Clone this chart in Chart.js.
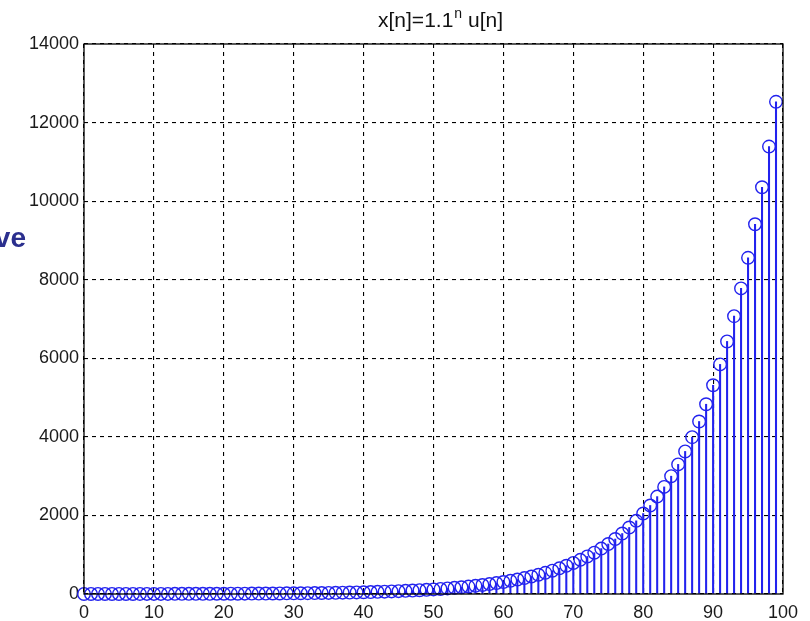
<!DOCTYPE html>
<html>
<head>
<meta charset="utf-8">
<script src="https://cdn.jsdelivr.net/npm/chart.js@4.4.1/dist/chart.umd.min.js"></script>
<style>
  html, body { margin: 0; padding: 0; background: #fff; }
  #wrap { position: relative; width: 810px; height: 621px; }
  #side { position: absolute; left: -10px; top: 222px; width: 36px; text-align: right;
          font: bold 28px "Liberation Sans", Arial, sans-serif; color: #2b2f8e; }
</style>
</head>
<body>
<div id="wrap">
  <canvas id="chart" width="810" height="621"></canvas>
  <div id="side">ve</div>
</div>
<script>
// n = 0..99, x[n] = 1.1^n
const nValues = [
  0, 1, 2, 3, 4, 5, 6, 7, 8, 9,
  10, 11, 12, 13, 14, 15, 16, 17, 18, 19,
  20, 21, 22, 23, 24, 25, 26, 27, 28, 29,
  30, 31, 32, 33, 34, 35, 36, 37, 38, 39,
  40, 41, 42, 43, 44, 45, 46, 47, 48, 49,
  50, 51, 52, 53, 54, 55, 56, 57, 58, 59,
  60, 61, 62, 63, 64, 65, 66, 67, 68, 69,
  70, 71, 72, 73, 74, 75, 76, 77, 78, 79,
  80, 81, 82, 83, 84, 85, 86, 87, 88, 89,
  90, 91, 92, 93, 94, 95, 96, 97, 98, 99
];
const xValues = [
  1, 1.1, 1.2, 1.3, 1.5, 1.6, 1.8, 1.9, 2.1, 2.4,
  2.6, 2.9, 3.1, 3.5, 3.8, 4.2, 4.6, 5.1, 5.6, 6.1,
  6.7, 7.4, 8.1, 9, 9.8, 11, 12, 13, 14, 16,
  17, 19, 21, 23, 26, 28, 31, 34, 37, 41,
  45, 50, 55, 60, 66, 73, 80, 88, 97, 107,
  117, 129, 142, 156, 172, 189, 208, 229, 252, 277,
  304, 335, 368, 405, 446, 490, 539, 593, 653, 718,
  790, 869, 956, 1051, 1156, 1272, 1399, 1539, 1693, 1862,
  2048, 2253, 2479, 2726, 2999, 3299, 3629, 3992, 4391, 4830,
  5313, 5844, 6429, 7072, 7779, 8557, 9412, 10354, 11389, 12528
];
const xTicks = [0, 10, 20, 30, 40, 50, 60, 70, 80, 90, 100];
const yTicks = [0, 2000, 4000, 6000, 8000, 10000, 12000, 14000];

const stemColor = "#2222ee";
const tickFont = { family: "'Liberation Sans', Arial, sans-serif", size: 18 };
const points = nValues.map((n, i) => ({ x: n, y: xValues[i] }));

// axes box and title with superscript n
const framePlugin = {
  id: "frame",
  afterDraw(chart) {
    const { ctx, chartArea: a } = chart;
    ctx.save();
    ctx.strokeStyle = "#000";
    ctx.lineWidth = 1.3;
    ctx.setLineDash([]);
    ctx.strokeRect(a.left, a.top, a.right - a.left, a.bottom - a.top);

    const base = "x[n]=1.1", sup = "n", rest = " u[n]";
    const big = "21px 'Liberation Sans', Arial, sans-serif";
    const small = "14px 'Liberation Sans', Arial, sans-serif";
    ctx.fillStyle = "#111";
    ctx.textBaseline = "alphabetic";
    ctx.font = big;
    const w1 = ctx.measureText(base).width;
    const w3 = ctx.measureText(rest).width;
    ctx.font = small;
    const w2 = ctx.measureText(sup).width;
    let x = 440 - (w1 + w2 + w3) / 2;
    const y = 27;
    ctx.font = big;
    ctx.fillText(base, x, y);
    x += w1;
    ctx.font = small;
    ctx.fillText(sup, x + 1, y - 9);
    x += w2 + 1;
    ctx.font = big;
    ctx.fillText(rest, x, y);
    ctx.restore();
  }
};

new Chart(document.getElementById("chart"), {
  type: "bar",
  data: {
    datasets: [
      {
        type: "scatter",
        data: points,
        showLine: false,
        pointStyle: "circle",
        pointRadius: 6.3,
        pointBorderWidth: 1.4,
        pointBorderColor: stemColor,
        pointBackgroundColor: "rgba(0,0,0,0)",
        clip: false,
        order: 0,
      },
      {
        type: "bar",
        data: points,
        backgroundColor: stemColor,
        barThickness: 1.4,
        order: 1,
      },
    ],
  },
  options: {
    responsive: false,
    animation: false,
    events: [],
    layout: { padding: { left: 0, right: 27, top: 44, bottom: 0 } },
    plugins: { legend: { display: false }, tooltip: { enabled: false } },
    scales: {
      x: {
        type: "linear",
        min: 0,
        max: 100,
        offset: false,
        grid: { offset: false, color: "#000", lineWidth: 1.1, drawTicks: false },
        border: { display: false, dash: [4, 4] },
        afterBuildTicks: (s) => { s.ticks = xTicks.map((v) => ({ value: v })); },
        afterFit: (s) => { s.height = 27; },
        ticks: { color: "#1a1a1a", font: tickFont, padding: 8, maxRotation: 0, autoSkip: false,
                 callback: (v) => String(v) },
      },
      y: {
        min: 0,
        max: 14000,
        grid: { color: "#000", lineWidth: 1.1, drawTicks: false },
        border: { display: false, dash: [4, 4] },
        afterBuildTicks: (s) => { s.ticks = yTicks.map((v) => ({ value: v })); },
        afterFit: (s) => { s.width = 84; },
        ticks: { color: "#1a1a1a", font: tickFont, padding: 5, callback: (v) => String(v) },
      },
    },
  },
  plugins: [framePlugin],
});
</script>
</body>
</html>
